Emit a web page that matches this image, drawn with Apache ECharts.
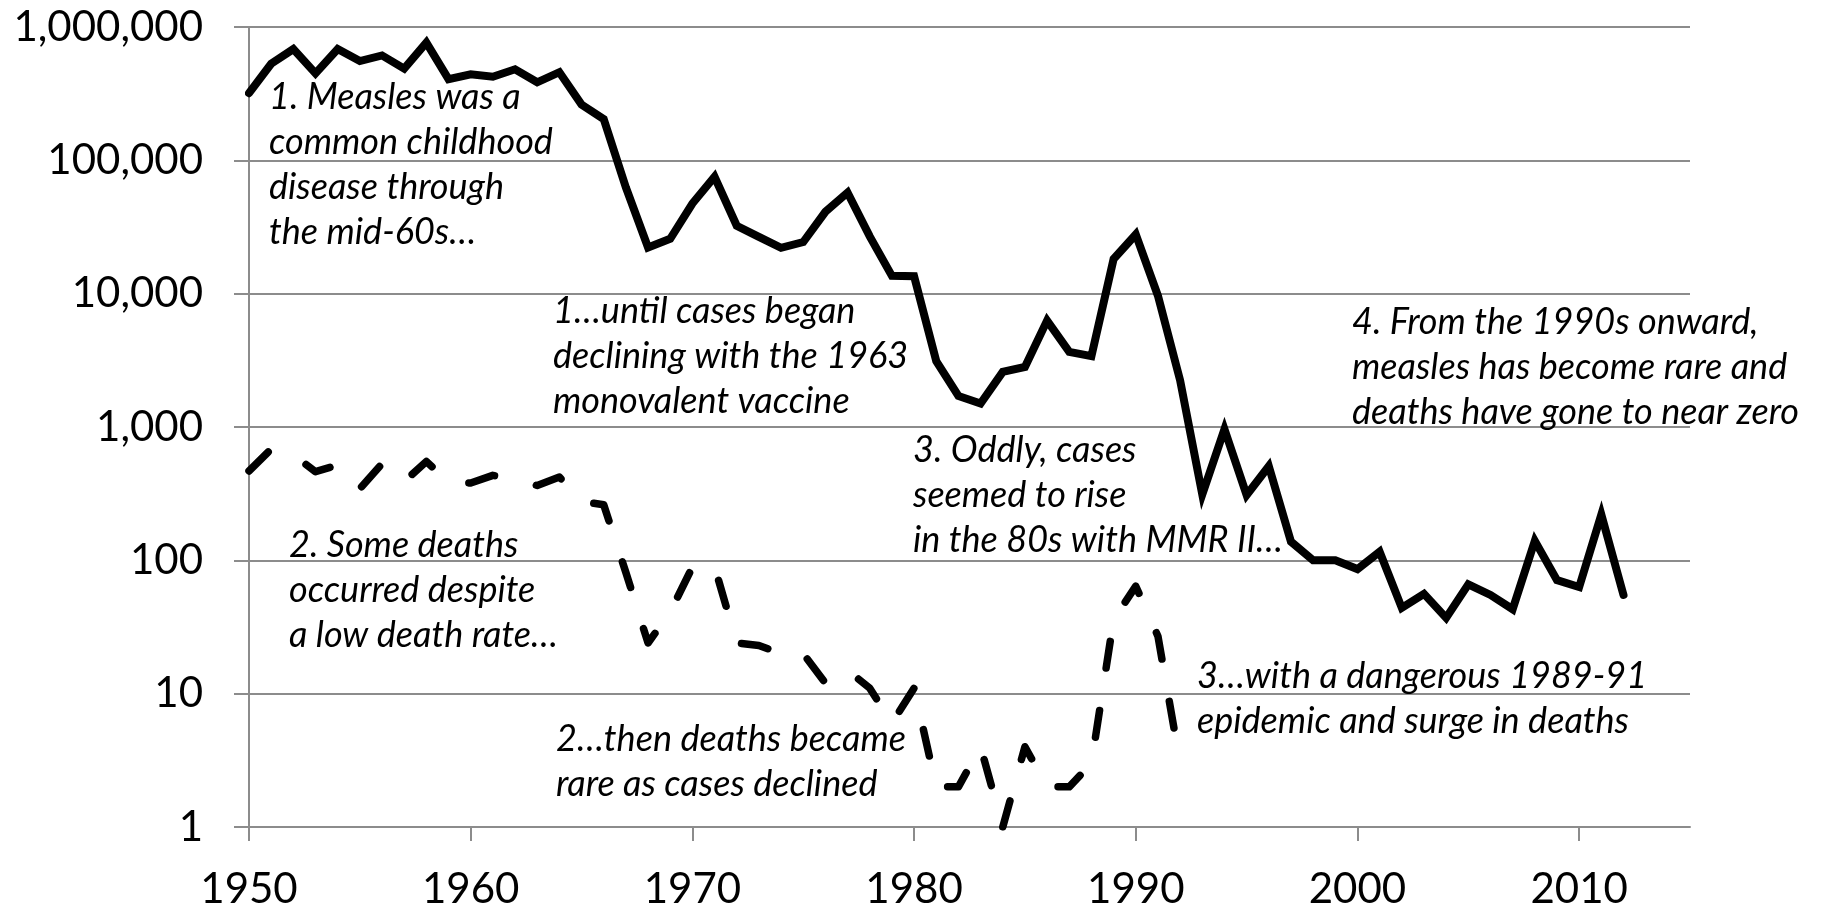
<!DOCTYPE html>
<html>
<head>
<meta charset="utf-8">
<script src="https://cdn.jsdelivr.net/npm/echarts@6.0.0/dist/echarts.min.js"></script>
<style>
  html, body { margin: 0; padding: 0; background: #fff; }
  #main { width: 1825px; height: 910px; }
</style>
</head>
<body>
<div id="main"></div>
<script>
// reported measles cases per year
var caseYears = [1950, 1951, 1952, 1953, 1954, 1955, 1956, 1957, 1958, 1959,
  1960, 1961, 1962, 1963, 1964, 1965, 1966, 1967, 1968, 1969,
  1970, 1971, 1972, 1973, 1974, 1975, 1976, 1977, 1978, 1979,
  1980, 1981, 1982, 1983, 1984, 1985, 1986, 1987, 1988, 1989,
  1990, 1991, 1992, 1993, 1994, 1995, 1996, 1997, 1998, 1999,
  2000, 2001, 2002, 2003, 2004, 2005, 2006, 2007, 2008, 2009,
  2010, 2011, 2012];
var cases = [319000, 530000, 683000, 449000, 683000, 555000, 612000, 487000, 763000, 406000,
  442000, 424000, 482000, 385000, 458000, 262000, 204000, 62700, 22200, 25800,
  47400, 75300, 32300, 26700, 22100, 24400, 41100, 57300, 26900, 13600,
  13500, 3120, 1710, 1500, 2590, 2820, 6280, 3660, 3400, 18200,
  27800, 9640, 2240, 312, 963, 309, 508, 138, 100, 100,
  86, 116, 44, 56, 37, 66, 55, 43, 140, 71,
  63, 220, 55];

// measles deaths per year
var deathYears = [1950, 1951, 1952, 1953, 1954, 1955, 1956, 1957, 1958, 1959,
  1960, 1961, 1962, 1963, 1964, 1965, 1966, 1967, 1968, 1969,
  1970, 1971, 1972, 1973, 1974, 1975, 1976, 1977, 1978, 1979,
  1980, 1981, 1982, 1983, 1984, 1985, 1986, 1987, 1988, 1989,
  1990, 1991, 1992, 1993];
var deaths = [468, 683, 618, 462, 518, 345, 530, 389, 552, 385,
  380, 434, 408, 364, 421, 276, 261, 81, 24, 41,
  89, 90, 24, 23, 20, 20, 12, 15, 11, 6,
  11, 2, 2, 4, 1, 4, 2, 2, 3, 36,
  64, 27, 3, 0];

var xTicks = [1950, 1960, 1970, 1980, 1990, 2000, 2010];

var notes = [
  { x: 269, y: 75, text: "1. Measles was a\ncommon childhood\ndisease through\nthe mid-60s…" },
  { x: 553, y: 289, text: "1…until cases began\ndeclining with the 1963\nmonovalent vaccine" },
  { x: 289, y: 523, text: "2. Some deaths\noccurred despite\na low death rate…" },
  { x: 556, y: 717, text: "2…then deaths became\nrare as cases declined" },
  { x: 913, y: 428, text: "3. Oddly, cases\nseemed to rise\nin the 80s with MMR II…" },
  { x: 1197, y: 654, text: "3…with a dangerous 1989-91\nepidemic and surge in deaths" },
  { x: 1352, y: 300, text: "4. From the 1990s onward,\nmeasles has become rare and\ndeaths have gone to near zero" }
];

var gridGray = "#8c8c8c";

function pairs(xs, ys) {
  return xs.map(function (x, i) { return [x, ys[i]]; });
}

var chart = echarts.init(document.getElementById("main"));
chart.setOption({
  animation: false,
  backgroundColor: "#fff",
  grid: { left: 249, right: 135, top: 27, bottom: 81, containLabel: false },
  xAxis: {
    type: "value",
    min: 1950,
    max: 2015,
    interval: 10,
    axisLine: { show: true, lineStyle: { color: gridGray, width: 2 } },
    axisTick: { show: true, length: 14, customValues: xTicks, lineStyle: { color: gridGray, width: 2 } },
    axisLabel: {
      customValues: xTicks,
      margin: 41,
      color: "#000",
      fontFamily: "Lato",
      fontSize: 42,
      formatter: function (v) { return String(v); }
    },
    splitLine: { show: false }
  },
  yAxis: {
    type: "log",
    logBase: 10,
    min: 1,
    max: 1000000,
    axisLine: { show: true, lineStyle: { color: gridGray, width: 2 } },
    axisTick: { show: true, length: 15, lineStyle: { color: gridGray, width: 2 } },
    minorTick: { show: false },
    axisLabel: {
      margin: 46,
      color: "#000",
      fontFamily: "Lato",
      fontSize: 42,
      formatter: function (v) { return Number(v).toLocaleString("en-US"); }
    },
    splitLine: { show: true, lineStyle: { color: gridGray, width: 2 } }
  },
  series: [
    {
      name: "Cases",
      type: "line",
      data: pairs(caseYears, cases),
      showSymbol: false,
      symbol: "none",
      lineStyle: { color: "#000", width: 8, cap: "round", join: "miter" },
      z: 3
    },
    {
      name: "Deaths",
      type: "line",
      data: pairs(deathYears, deaths),
      showSymbol: false,
      symbol: "none",
      lineStyle: { color: "#000", width: 7.5, type: [27, 43], dashOffset: 0, cap: "round", join: "round" },
      z: 3
    }
  ],
  graphic: notes.map(function (n) {
    return {
      type: "text",
      x: n.x,
      y: n.y,
      z: 100,
      style: {
        text: n.text,
        fill: "#000",
        font: "italic 36px Lato",
        lineHeight: 45,
        verticalAlign: "top",
        align: "left"
      }
    };
  })
});
</script>
</body>
</html>
